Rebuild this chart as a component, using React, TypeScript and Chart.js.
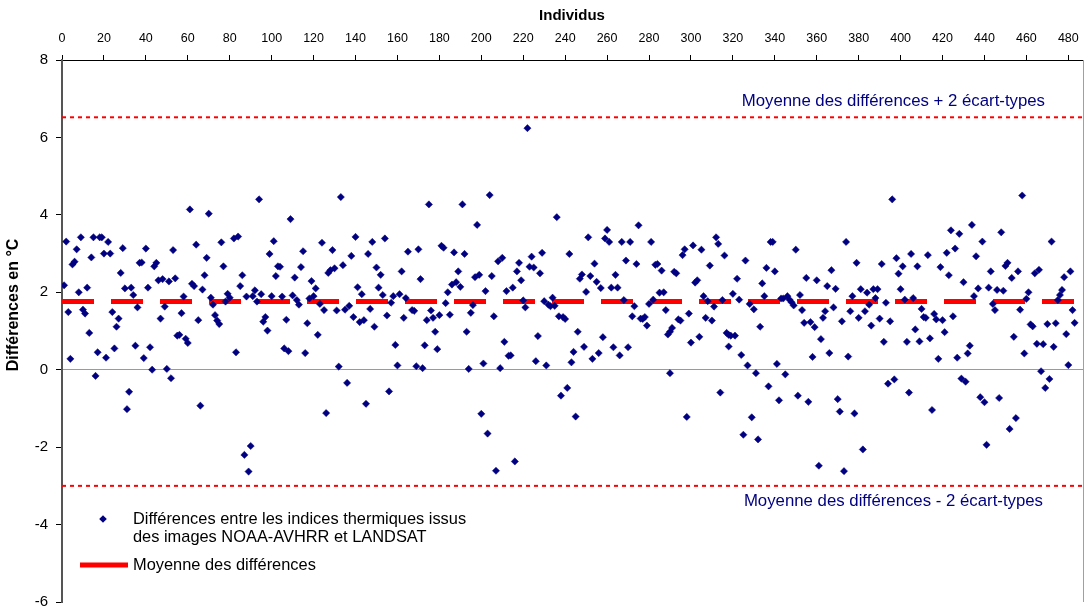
import React, { useEffect, useRef } from 'react';
import { Chart, registerables } from 'chart.js';

Chart.register(...registerables);

// Individual index (x)
const individus: number[] = [
  1, 2, 3, 4, 5, 6, 7, 8, 9, 10,
  11, 12, 13, 14, 15, 16, 17, 18, 19, 20,
  21, 22, 23, 24, 25, 26, 27, 28, 29, 30,
  31, 32, 33, 34, 35, 36, 37, 38, 39, 40,
  41, 42, 43, 44, 45, 46, 47, 48, 49, 50,
  51, 52, 53, 54, 55, 56, 57, 58, 59, 60,
  61, 62, 63, 64, 65, 66, 67, 68, 69, 70,
  71, 72, 73, 74, 75, 76, 77, 78, 79, 80,
  82, 83, 84, 85, 86, 87, 88, 89, 90, 91,
  92, 93, 94, 95, 96, 97, 98, 99, 100, 101,
  102, 103, 104, 105, 106, 107, 108, 109, 110, 111,
  112, 113, 114, 115, 116, 117, 118, 119, 120, 121,
  122,
  123, 124, 125, 126, 127, 128, 129, 130, 131, 132,
  133, 134, 135, 136, 137, 138, 139, 140, 141, 142,
  143, 144, 145, 146, 147, 148, 149, 150, 151, 152,
  153, 154, 155, 156, 157, 158, 159, 160, 161, 162,
  163, 164,
  165,
  167, 168, 169, 170, 171, 172, 173, 174, 175, 176,
  177, 178, 179, 180, 181, 182, 183, 184, 185, 186,
  187, 188, 189, 190, 191, 192, 193, 194, 195, 196,
  197, 198, 199, 200, 201, 202, 203, 204,
  205, 206, 207, 208, 209, 210, 211, 212, 213, 214,
  215, 216, 217, 218, 219, 220, 221, 222, 223, 224,
  225, 226, 227, 228, 229, 230, 231, 232, 233, 234,
  235, 236, 237, 238, 239, 240, 241, 242, 243, 244,
  245, 246,
  247, 248, 249, 250, 251, 252, 253, 254, 255, 256,
  257, 258, 259, 260, 261, 262, 263, 264, 265, 266,
  267, 268, 269, 270, 271, 272, 273, 274, 275, 276,
  277, 278, 279, 280, 281, 282, 283, 284, 285, 286,
  287, 288, 289, 290, 290, 291, 292, 293, 294, 295,
  296, 297, 298, 299, 300, 301, 302, 303, 304, 305,
  306, 307, 308, 309, 310, 311, 312, 313, 314, 315,
  316, 317, 318, 318, 319, 320, 321, 322, 323, 324,
  325, 326, 327,
  328, 329, 330, 331, 332, 333, 334, 335, 336, 337,
  338, 339, 340, 341, 342, 343, 344, 345, 346, 347,
  348, 349, 350, 351, 352, 353, 354, 355, 356, 357,
  358, 359, 360, 361, 362, 363, 364, 365, 366, 367,
  368,
  369, 370, 371, 372, 373, 374, 375, 376, 377, 378,
  379, 380, 381, 382, 383, 384, 385, 386, 387, 388,
  389, 390, 391, 392, 393, 394, 395, 396, 397, 398,
  399, 400, 401, 402, 403, 404, 405, 406, 407, 408,
  409,
  410, 411, 412, 413, 414, 415, 416, 417, 418, 419,
  420, 421, 422, 423, 424, 425, 426, 427, 428, 429,
  430, 431, 432, 433, 434, 435, 436, 437, 438, 439,
  440, 441, 442, 443, 444, 445, 446, 447, 448, 449,
  450,
  451, 452, 453, 454, 455, 456, 457, 458, 459, 460,
  461, 462, 463, 464, 465, 466, 467, 468, 469, 470,
  471, 472, 473, 474, 475, 476, 477, 478, 479, 480,
  481, 482, 483,
];

// Difference NOAA-AVHRR minus LANDSAT (°C), same order as individus
const differences: number[] = [
  2.18, 3.31, 1.49, 0.28, 2.72, 2.79, 3.11, 2.0, 3.42, 1.55,
  1.45, 2.12, 0.95, 2.9, 3.42, -0.16, 0.45, 3.42, 3.42, 3.0,
  0.31, 3.3, 3.0, 1.49, 0.55, 1.11, 1.32, 2.5, 3.14, 2.1,
  -1.02, -0.57, 2.12, 1.93, 0.62, 1.61, 2.76, 2.77, 0.3, 3.13,
  2.12, 0.58, 0.0, 2.67, 2.76, 2.31, 1.32, 2.34, 1.63, 0.02,
  2.28, -0.22, 3.09, 2.36, 0.88, 0.9, 1.46, 1.89, 0.8, 0.69,
  4.14, 2.22, 2.16, 3.23, 1.28, -0.93, 2.07, 2.44, 2.89, 4.03,
  1.86, 1.68, 1.41, 1.27, 1.18, 3.29, 2.67, 1.76, 1.96, 1.86,
  3.39, 0.45, 3.44, 2.16, 2.44, -2.2, 1.89, -2.63, -1.97, 1.9,
  2.05, 1.76, 4.4, 1.95, 1.24, 1.36, 1.01, 2.99, 1.9, 3.32,
  2.42, 2.67, 2.66, 1.89, 0.55, 1.29, 0.48, 3.89, 1.92, 2.38,
  1.8, 1.68, 2.65, 3.06, 0.43, 1.2, 1.84, 2.29, 1.9, 2.1,
  0.9,
  1.7, 3.28, 1.54, -1.12, 2.5, 2.57, 3.09, 2.62, 1.53, 0.08,
  4.46, 2.7, 1.55, -0.34, 1.65, 2.94, 1.36, 3.43, 2.13, 1.23,
  1.95, 1.28, -0.88, 2.99, 1.57, 3.3, 1.11, 2.64, 2.12, 2.45,
  1.93, 3.39, 1.4, -0.56, 1.73, 1.9, 0.64, 0.11, 1.95, 2.54,
  1.34, 1.85,
  3.05,
  1.54, 1.52, 0.09, 3.11, 2.34, 0.04, 0.63, 1.28, 4.27, 1.53,
  1.34, 0.98, 0.53, 1.41, 3.2, 3.15, 1.72, 2.0, 1.42, 2.2,
  3.03, 2.26, 2.54, 2.14, 4.27, 2.99, 0.98, 0.02, 1.47, 1.67,
  2.39, 3.74, 2.45, -1.14, 0.16, 2.03, -1.65, 4.51,
  2.42, 1.38, -2.61, 2.8, 0.04, 2.89, 0.72, 2.03, 0.36, 0.37,
  2.12, -2.37, 2.54, 2.76, 2.31, 1.79, 1.61, 6.24, 2.66, 2.92,
  2.64, 0.22, 0.87, 2.49, 3.02, 1.77, 0.11, 1.68, 1.64, 1.86,
  1.65, 3.94, 1.38, -0.67, 1.36, 1.31, -0.47, 2.99, 0.19, 0.46,
  -1.21, 0.98,
  2.35, 2.46, 0.59, 2.01, 3.42, 2.42, 0.28, 2.74, 2.27, 0.43,
  2.11, 0.84, 3.39, 3.61, 3.3, 2.12, 0.58, 2.45, 2.12, 0.37,
  3.3, 1.8, 2.82, 0.58, 3.3, 1.38, 1.64, 2.73, 3.73, 1.32,
  1.31, 1.36, 1.14, 1.7, 3.3, 1.81, 2.71, 2.73, 1.99, 2.56,
  2.0, 1.54, 0.91, 0.98, -0.09, 1.08, 2.53, 2.49, 1.3, 1.27,
  2.96, 3.11, -1.22, 1.45, 0.7, 3.21, 2.25, 2.31, 0.85, 3.1,
  1.9, 1.34, 1.77, 2.69, 1.27, 1.63, 3.42, 3.25, -0.59, 1.8,
  2.95, 0.95, 0.9, 0.6, 0.88, 1.96, 0.88, 2.35, 1.81, 0.38,
  -1.68, 2.82, 0.11,
  1.7, -1.23, 1.56, -0.09, -1.8, 1.11, 2.23, 1.9, 2.63, -0.43,
  3.3, 3.3, 2.54, 0.15, -0.79, 1.84, 1.84, -0.12, 1.9, 1.81,
  1.74, 1.66, 3.1, -0.67, 1.93, 1.54, 1.21, 2.37, -0.83, 1.23,
  0.33, 1.1, 2.31, -2.48, 0.79, 1.34, 1.51, 2.16, 0.43, 2.57,
  1.61,
  2.09, -0.76, -1.08, 1.25, -2.62, 3.3, 0.34, 1.51, 1.9, -1.13,
  2.76, 1.34, 2.08, -2.06, 1.51, 1.99, 1.68, 1.14, 2.08, 1.85,
  2.08, 1.32, 2.73, 0.72, 1.73, -0.36, 1.25, 4.4, -0.25, 2.88,
  2.48, 2.08, 2.67, 1.81, 0.72, -0.59, 2.99, 1.85, 1.04, 2.67,
  0.73,
  1.57, 1.36, 1.34, 2.96, 0.81, -1.04, 1.44, 1.3, 0.28, 2.65,
  1.28, 0.97, 3.02, 2.44, 3.6, 1.38, 3.13, 0.31, 3.51, -0.23,
  2.26, -0.31, 0.42, 0.62, 3.74, 1.9, 2.93, 2.1, -0.71, 3.31,
  -0.84, -1.94, 2.12, 2.54, 1.7, 1.54, 2.06, -0.73, 3.55, 2.04,
  2.68,
  2.76, -1.53, 2.37, 0.85, -1.25, 2.54, 1.55, 4.5, 0.42, 1.83,
  2.0, 1.17, 1.12, 2.49, 0.67, 2.58, -0.04, 0.66, -0.47, 1.18,
  -0.24, 3.31, 0.59, 1.2, 1.8, 1.93, 2.06, 2.39, 0.92, 0.12,
  2.54, 1.54, 1.21,
];

const moyenne = 1.76;
const ecartType = 2.38;
const xMin = 0;
const xMax = 487;
const xTickValues: number[] = [0, 20, 40, 60, 80, 100, 120, 140, 160, 180, 200, 220, 240, 260, 280, 300, 320, 340, 360, 380, 400, 420, 440, 460, 480];
const yTickValues: number[] = [-6, -4, -2, 0, 2, 4, 6, 8];

const labelPlus = 'Moyenne des différences + 2 écart-types';
const labelMinus = 'Moyenne des différences - 2 écart-types';
const legendPoints = ['Différences entre les indices thermiques issus', 'des images NOAA-AVHRR et LANDSAT'];
const legendMean = 'Moyenne des différences';
const xTitle = 'Individus';
const yTitle = 'Différences en °C';

const FONT = '"Liberation Sans", Arial, sans-serif';
const NAVY = '#000080';
const RED = '#ff0000';

const decorPlugin = {
  id: 'decor',
  afterDraw(chart: any) {
    const { ctx, chartArea, scales } = chart;
    const ys = scales.y;
    ctx.save();
    // right border of plot area
    ctx.strokeStyle = '#a0a0a0';
    ctx.lineWidth = 1;
    ctx.beginPath();
    ctx.moveTo(chartArea.right + 0.5, chartArea.top);
    ctx.lineTo(chartArea.right + 0.5, chartArea.bottom);
    ctx.stroke();

    // annotation labels
    ctx.font = `16.8px ${FONT}`;
    ctx.fillStyle = NAVY;
    ctx.textAlign = 'right';
    ctx.textBaseline = 'middle';
    ctx.fillText(labelPlus, chartArea.right - 38, ys.getPixelForValue(moyenne + 2 * ecartType) - 16);
    ctx.fillText(labelMinus, chartArea.right - 40, ys.getPixelForValue(moyenne - 2 * ecartType) + 16);

    // legend
    const lx = chartArea.left;
    ctx.fillStyle = NAVY;
    ctx.beginPath();
    const mx = lx + 41, my = 519, r = 3.8;
    ctx.moveTo(mx - r, my);
    ctx.lineTo(mx, my - r);
    ctx.lineTo(mx + r, my);
    ctx.lineTo(mx, my + r);
    ctx.closePath();
    ctx.fill();
    ctx.font = `16.4px ${FONT}`;
    ctx.fillStyle = '#000';
    ctx.textAlign = 'left';
    ctx.fillText(legendPoints[0], lx + 71, 519);
    ctx.fillText(legendPoints[1], lx + 71, 537);
    ctx.strokeStyle = RED;
    ctx.lineWidth = 5;
    ctx.beginPath();
    ctx.moveTo(lx + 18, 565);
    ctx.lineTo(lx + 66, 565);
    ctx.stroke();
    ctx.fillText(legendMean, lx + 71, 565);

    // titles
    ctx.font = `bold 15px ${FONT}`;
    ctx.fillStyle = '#000';
    ctx.textAlign = 'center';
    ctx.fillText(xTitle, 572, 16);
    ctx.font = `bold 16px ${FONT}`;
    ctx.translate(14, 305);
    ctx.rotate(-Math.PI / 2);
    ctx.fillText(yTitle, 0, 0);
    ctx.restore();
  },
};

export default function App() {
  const canvasRef = useRef<HTMLCanvasElement | null>(null);

  useEffect(() => {
    if (!canvasRef.current) return;
    const points = individus.map((x, i) => ({ x, y: differences[i] }));
    const hLine = (v: number) => [
      { x: xMin, y: v },
      { x: xMax, y: v },
    ];
    const chart = new Chart(canvasRef.current, {
      type: 'scatter',
      data: {
        datasets: [
          {
            label: 'Différences',
            data: points,
            pointStyle: 'rectRot',
            pointRadius: 3.6,
            pointBackgroundColor: NAVY,
            pointBorderColor: NAVY,
            pointBorderWidth: 0.5,
            showLine: false,
          },
          {
            label: 'Moyenne',
            data: hLine(moyenne),
            showLine: true,
            borderColor: RED,
            borderWidth: 5,
            borderDash: [32, 17],
            pointRadius: 0,
          },
          {
            label: '+2',
            data: hLine(moyenne + 2 * ecartType),
            showLine: true,
            borderColor: RED,
            borderWidth: 2,
            borderDash: [4, 4],
            pointRadius: 0,
          },
          {
            label: '-2',
            data: hLine(moyenne - 2 * ecartType),
            showLine: true,
            borderColor: RED,
            borderWidth: 2,
            borderDash: [4, 4],
            pointRadius: 0,
          },
        ],
      },
      options: {
        animation: false,
        responsive: false,
        devicePixelRatio: 1,
        layout: { padding: { left: 0, right: 6, top: 0, bottom: 8 } },
        plugins: {
          legend: { display: false },
          tooltip: { enabled: false },
        },
        scales: {
          x: {
            type: 'linear',
            position: 'top',
            min: xMin,
            max: xMax,
            afterBuildTicks: (s: any) => {
              s.ticks = xTickValues.map((v) => ({ value: v }));
            },
            afterFit: (s: any) => {
              s.height = 60;
              s.paddingLeft = 0;
              s.paddingRight = 0;
            },
            ticks: {
              font: { family: FONT, size: 12.5 },
              color: '#000',
              padding: 9,
              maxRotation: 0,
              autoSkip: false,
            },
            grid: { drawOnChartArea: false, tickLength: 5, tickColor: '#000' },
            border: { display: true, color: '#000', width: 1 },
          },
          y: {
            type: 'linear',
            min: -6,
            max: 8,
            afterBuildTicks: (s: any) => {
              s.ticks = yTickValues.map((v) => ({ value: v }));
            },
            afterFit: (s: any) => {
              s.width = 62;
              s.paddingTop = 0;
              s.paddingBottom = 0;
            },
            ticks: {
              font: { family: FONT, size: 15 },
              color: '#000',
              padding: 8,
            },
            grid: {
              color: (c: any) => (c.tick && c.tick.value === 0 ? '#9a9a9a' : 'rgba(0,0,0,0)'),
              tickColor: '#000',
              tickLength: 6,
            },
            border: { display: true, color: '#555', width: 2 },
          },
        },
      },
      plugins: [decorPlugin],
    });
    return () => chart.destroy();
  }, []);

  return (
    <div style={{ position: 'fixed', left: 0, top: 0, width: 1089, height: 610, background: '#fff' }}>
      <canvas ref={canvasRef} width={1089} height={610} style={{ display: 'block' }} />
    </div>
  );
}
